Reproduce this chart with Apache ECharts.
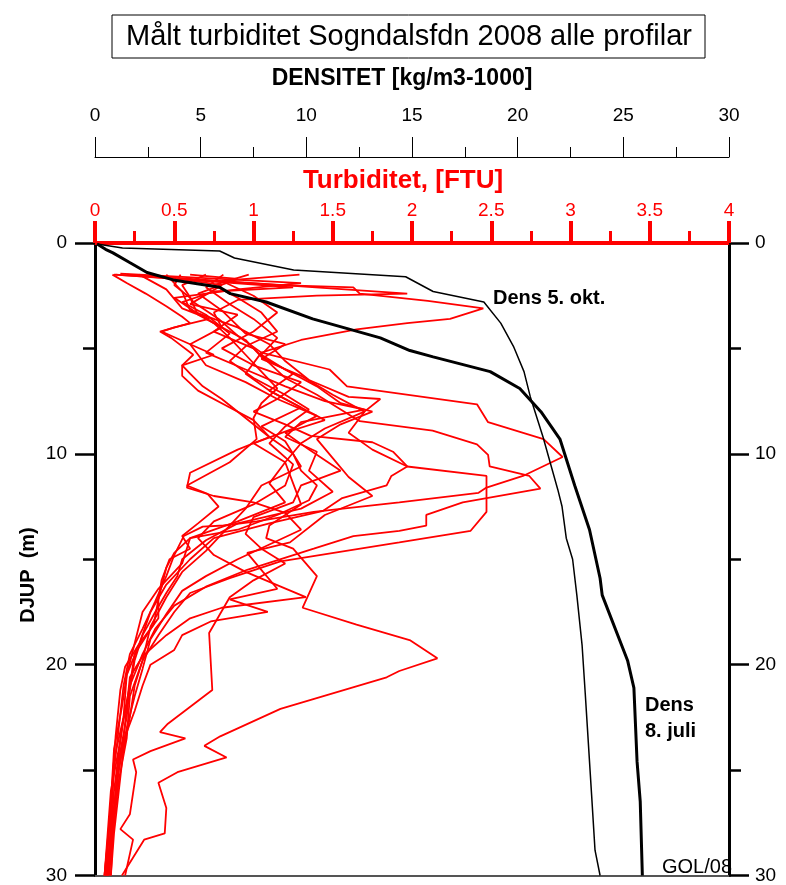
<!DOCTYPE html>
<html lang="no">
<head>
    <meta charset="UTF-8">
    <title>Målt turbiditet Sogndalsfdn 2008</title>
    <script src="https://cdn.jsdelivr.net/npm/echarts@6/dist/echarts.min.js"></script>
</head>
<style>
    html,body{margin:0;padding:0;background:#fff;}
    #main{width:786px;height:885px;}
</style>
<body>
    <div id="main"></div>
</body>
</html>

<script>
    // akser
    let turbTicks=[0,0.5,1,1.5,2,2.5,3,3.5,4];
    let densTicks=[0,5,10,15,20,25,30];
    let depthTicks=[0,10,20,30];

    // densitet [kg/m3-1000] mot djup (m)
    let densOktDepth=[0.05,0.24,0.38,0.71,1.28,1.6,2.3,2.8,3.8,4.9,6.1,7.3,9.2,11.7,12.5,14.0,15.0,16.7,19.1,21.4,23.0,26.2,28.8,30];
    let densOkt=[0.1,1.3,5.9,6.6,9.4,14.7,16.0,18.4,19.2,19.8,20.3,20.6,21.2,21.9,22.1,22.3,22.6,22.8,23.05,23.2,23.3,23.5,23.66,23.9];
    let densJuliDepth=[0.05,0.3,0.47,0.94,1.4,1.75,2.1,2.4,2.8,3.6,4.5,5.1,5.4,6.1,6.9,8.0,9.3,11.5,13.6,15.9,16.7,19.8,21.1,24.6,26.5,30];
    let densJuli=[0.1,0.5,0.85,1.66,2.46,3.7,5.9,6.4,8.1,10.3,13.5,14.9,16.0,18.7,20.1,21.1,22.0,22.7,23.4,23.9,24.0,25.2,25.5,25.65,25.8,25.9];

    // turbiditet [FTU], djup (m) - ein profil per liste
    let prof01=[[0.12,1.5],[1.17,2.0],[1.63,2.1],[1.67,2.4],[2.1,2.75],[2.45,3.1],[2.24,3.6],[1.97,3.8],[1.65,4.1],[1.3,4.6],[1.05,5.2],[0.95,6.2],[1.1,7.0],[1.3,7.8],[1.05,8.7],[1.2,9.4],[1.3,10.6],[1.05,11.5],[0.95,12.6],[0.85,13.4],[0.7,14.6],[0.55,15.6],[0.45,16.8],[0.35,18.2],[0.3,19.8],[0.22,21.5],[0.2,23.5],[0.15,25.5],[0.12,27.5],[0.08,30]];
    let prof02=[[0.2,1.5],[1.0,1.9],[1.97,2.4],[1.4,2.5],[0.9,2.7],[0.75,3.3],[0.8,4.0],[0.6,4.8],[0.7,5.8],[0.95,6.6],[1.15,7.4],[1.4,8.2],[1.25,8.8],[1.0,9.5],[1.2,10.4],[1.1,11.4],[1.2,12.3],[0.9,13.2],[0.6,14.0],[0.55,15.2],[0.4,16.4],[0.3,17.5],[0.25,19.0],[0.2,20.5],[0.18,22.5],[0.12,24.5],[0.1,27],[0.06,30]];
    let prof03=[[0.7,1.5],[0.55,2.0],[0.62,2.8],[0.78,3.6],[0.9,4.4],[1.05,5.2],[1.48,6.0],[1.59,6.8],[2.41,7.65],[2.48,8.5],[2.83,9.3],[2.95,10.15],[2.7,11.05],[2.47,11.6],[2.42,11.85],[1.92,12.3],[1.38,12.75],[1.02,13.2],[0.81,13.4],[0.68,13.45],[0.56,13.9],[0.5,14.8],[0.45,15.8],[0.38,17.0],[0.3,18.3],[0.22,19.5],[0.18,21.0],[0.15,23.0],[0.12,25.0],[0.1,27.5],[0.08,30]];
    let prof04=[[0.6,1.5],[0.9,1.7],[0.65,2.4],[0.8,3.2],[0.95,4.3],[1.2,4.8],[1.05,5.5],[1.3,6.3],[1.5,7.2],[1.7,8.0],[1.6,9.0],[1.75,9.8],[1.97,10.6],[2.47,11.05],[2.47,12.75],[2.37,13.65],[1.92,14.2],[1.17,15.1],[0.85,15.9],[0.6,16.6],[0.5,17.5],[0.4,18.6],[0.3,19.8],[0.25,21],[0.22,22.5],[0.18,24],[0.15,26],[0.12,28],[0.1,30]];
    let prof05=[[0.35,1.5],[0.8,2.0],[0.6,2.9],[0.9,3.4],[0.75,4.2],[1.0,5.0],[1.2,6.4],[1.4,7.2],[1.67,8.45],[2.13,8.9],[2.41,9.55],[2.48,10.05],[2.49,10.6],[2.74,11.05],[2.81,11.65],[2.32,12.3],[2.09,12.9],[2.09,13.4],[1.92,13.65],[1.63,13.9],[1.38,14.5],[0.96,15.5],[0.7,16.3],[0.5,17.2],[0.38,18.3],[0.3,19.5],[0.22,21],[0.2,22.5],[0.15,24.5],[0.12,27],[0.09,30]];
    let prof06=[[1.29,1.5],[0.8,1.8],[1.0,2.5],[1.15,3.3],[1.0,4.2],[0.8,5.0],[1.0,5.8],[1.3,6.6],[1.15,7.4],[1.0,8.0],[1.2,8.6],[1.36,9.15],[1.75,9.45],[1.88,9.9],[1.97,10.6],[1.87,11.05],[1.84,11.5],[1.56,12.1],[1.44,12.7],[1.1,13.3],[0.75,14.0],[0.6,15.0],[0.45,16.2],[0.35,17.5],[0.28,19.0],[0.2,20.5],[0.17,22.0],[0.12,24.0],[0.1,26.5],[0.07,30]];
    let prof07=[[0.45,1.5],[0.55,2.3],[0.6,3.2],[0.9,4.0],[1.1,4.8],[1.2,5.6],[1.35,6.5],[1.6,7.3],[1.8,7.4],[1.7,8.0],[1.45,8.8],[1.3,9.5],[1.2,10.4],[1.25,11.4],[1.3,12.4],[1.1,13.4],[1.08,14.0],[1.25,14.5],[1.4,15.8],[1.31,17.3],[1.65,18.1],[1.99,18.85],[2.16,19.7],[1.92,20.3],[1.84,20.6],[1.17,22.1],[0.79,23.4],[0.69,23.85],[0.83,24.4],[0.52,25.1],[0.4,25.6],[0.45,26.8],[0.44,28.0],[0.31,28.3],[0.17,30]];
    let prof08=[[0.28,1.5],[0.45,2.2],[0.55,3.1],[0.72,3.6],[0.5,4.0],[0.42,4.2],[0.6,4.8],[0.75,5.3],[0.55,5.8],[0.55,6.3],[0.65,7.0],[0.85,7.8],[1.0,8.4],[1.1,9.2],[0.9,9.8],[0.6,10.9],[0.58,11.6],[0.75,12.0],[1.0,12.3],[1.2,12.8],[1.3,13.6],[1.1,14.3],[0.9,15.0],[0.7,15.8],[0.55,16.5],[0.45,17.6],[0.35,18.8],[0.3,20.2],[0.25,21.5],[0.2,23],[0.15,25],[0.12,27],[0.1,30]];
    let prof09=[[0.11,1.5],[0.2,1.9],[0.32,2.4],[0.45,3.0],[0.55,3.5],[0.6,3.8],[0.41,4.2],[0.48,4.5],[0.62,5.3],[0.55,5.8],[0.6,6.2],[0.68,6.8],[0.8,7.4],[0.95,8.3],[1.1,9.2],[1.25,10.0],[1.3,10.8],[1.4,11.5],[1.35,12.2],[1.15,12.9],[0.9,13.6],[0.6,14.0],[0.5,14.7],[0.45,15.4],[0.4,16.9],[0.37,18.1],[0.25,19.5],[0.22,21],[0.18,22.5],[0.15,24],[0.1,26],[0.08,28],[0.06,30]];
    let prof10=[[0.54,1.5],[0.5,2.0],[0.6,2.6],[0.65,3.4],[0.8,4.0],[0.95,4.6],[1.05,5.4],[1.25,6.2],[1.1,7.0],[1.25,7.6],[1.45,8.4],[1.2,9.0],[1.35,9.8],[1.55,10.8],[1.3,11.5],[1.25,12.3],[1.0,13.0],[0.95,13.8],[1.05,14.5],[1.2,15.2],[1.0,16.0],[0.85,16.8],[0.72,18.5],[0.74,21.2],[0.46,22.8],[0.41,23.2],[0.57,23.5],[0.35,24.1],[0.24,24.5],[0.26,25.1],[0.22,27.1],[0.16,27.8],[0.24,28.3],[0.19,30]];
    let prof11=[[0.16,1.45],[1.3,1.9],[0.9,2.2],[0.5,2.6],[0.62,3.2],[0.75,3.8],[0.85,4.5],[0.95,5.3],[1.05,6.1],[1.15,6.9],[1.05,7.6],[1.0,8.3],[1.02,9.3],[0.85,10.4],[0.58,11.5],[0.71,11.9],[0.78,12.5],[0.65,13.3],[0.55,13.9],[0.6,14.5],[0.47,15.0],[0.42,16.0],[0.4,16.9],[0.4,17.8],[0.37,18.1],[0.28,19.0],[0.19,20.1],[0.16,21.2],[0.13,23.4],[0.11,25.6],[0.09,27.5],[0.06,30]];
    let prof12=[[0.81,1.5],[0.7,2.1],[0.85,2.9],[1.0,3.6],[1.15,4.5],[1.05,5.3],[1.2,6.0],[1.4,6.8],[1.55,7.6],[1.75,8.0],[1.55,8.6],[1.4,9.3],[1.5,10.2],[1.6,11.1],[1.75,12.0],[1.45,12.9],[1.23,14.2],[0.96,14.7],[1.06,15.6],[1.15,16.4],[0.85,16.9],[1.09,17.5],[0.73,17.95],[0.55,18.6],[0.5,19.3],[0.35,20.0],[0.3,21.0],[0.25,22.2],[0.18,23.6],[0.14,25.5],[0.1,28.0],[0.07,30]];
    let prof13=[[0.97,1.5],[0.75,2.0],[0.9,2.6],[1.05,3.3],[1.15,4.2],[0.95,4.9],[0.85,5.6],[1.0,6.4],[1.2,7.2],[1.35,7.9],[1.2,8.7],[1.1,9.5],[1.25,10.5],[1.2,11.5],[1.0,12.4],[0.75,13.2],[0.65,14.0],[0.75,14.8],[0.95,15.6],[1.33,16.8],[0.8,17.3],[0.6,17.8],[0.45,18.6],[0.3,19.6],[0.22,20.6],[0.2,22.0],[0.18,23.5],[0.14,25.0],[0.12,27.0],[0.08,30]];
    let prof14=[[0.13,1.5],[1.25,2.1],[0.75,2.3],[0.55,2.8],[0.7,3.4],[0.85,4.3],[0.7,5.2],[0.95,6.0],[1.2,6.8],[1.45,7.5],[1.7,7.9],[1.3,8.5],[1.2,9.2],[1.4,9.9],[1.35,10.8],[1.5,11.8],[1.3,12.6],[0.9,13.3],[0.7,14.1],[0.55,15.0],[0.52,15.8],[0.45,16.6],[0.38,17.5],[0.3,18.6],[0.25,19.8],[0.22,21.2],[0.18,22.6],[0.15,24.2],[0.12,26.0],[0.1,28.0],[0.08,30]];
    let profiles=[prof01,prof02,prof03,prof04,prof05,prof06,prof07,prof08,prof09,prof10,prof11,prof12,prof13,prof14];

    let chart=echarts.init(document.getElementById('main'),null,{renderer:'canvas'});
    let font='"Liberation Sans", Arial, sans-serif';
    let red='#ff0000';

    let series=profiles.map(function(p,i){
        return {
            name:'Profil '+(i+1),
            type:'line',
            xAxisIndex:0,
            yAxisIndex:0,
            data:p,
            showSymbol:false,
            lineStyle:{color:red,width:1.8},
            z:3
        };
    });
    series.push({
        name:'Dens 5. okt.',
        type:'line',
        xAxisIndex:1,
        yAxisIndex:0,
        data:densOkt.map(function(d,i){return [d,densOktDepth[i]];}),
        showSymbol:false,
        lineStyle:{color:'#000',width:1.5},
        z:4
    });
    series.push({
        name:'Dens 8. juli',
        type:'line',
        xAxisIndex:1,
        yAxisIndex:0,
        data:densJuli.map(function(d,i){return [d,densJuliDepth[i]];}),
        showSymbol:false,
        lineStyle:{color:'#000',width:3},
        z:4
    });

    function depthAxis(pos,margin){
        return {
            type:'value',
            position:pos,
            inverse:true,
            min:0,
            max:30,
            interval:10,
            axisLine:{show:true,onZero:false,lineStyle:{color:'#000',width:3}},
            axisTick:{show:true,length:20,lineStyle:{color:'#000',width:2.5}},
            minorTick:{show:true,splitNumber:2,length:12,lineStyle:{color:'#000',width:2.5}},
            axisLabel:{color:'#000',fontSize:19,fontFamily:font,margin:margin,showMinLabel:true,showMaxLabel:true},
            splitLine:{show:false},
            minorSplitLine:{show:false}
        };
    }

    chart.setOption({
        animation:false,
        backgroundColor:'#fff',
        textStyle:{fontFamily:font},
        grid:{left:95,right:57,top:243,bottom:7,containLabel:false},
        xAxis:[
            {
                type:'value',
                position:'top',
                min:0,
                max:4,
                interval:0.5,
                axisLine:{show:true,onZero:false,lineStyle:{color:red,width:4}},
                axisTick:{show:true,length:22,lineStyle:{color:red,width:4}},
                minorTick:{show:true,splitNumber:2,length:12,lineStyle:{color:red,width:3}},
                axisLabel:{color:red,fontSize:19,fontFamily:font,margin:23,showMinLabel:true,showMaxLabel:true},
                splitLine:{show:false},
                minorSplitLine:{show:false}
            },
            {
                type:'value',
                position:'top',
                offset:86,
                min:0,
                max:30,
                interval:5,
                axisLine:{show:true,onZero:false,lineStyle:{color:'#000',width:1}},
                axisTick:{show:true,length:20,lineStyle:{color:'#000',width:1}},
                minorTick:{show:true,splitNumber:2,length:10,lineStyle:{color:'#000',width:1}},
                axisLabel:{color:'#000',fontSize:19,fontFamily:font,margin:32,showMinLabel:true,showMaxLabel:true},
                splitLine:{show:false},
                minorSplitLine:{show:false}
            },
            {
                type:'value',
                position:'bottom',
                min:0,
                max:4,
                axisLine:{show:true,onZero:false,lineStyle:{color:'#555',width:2}},
                axisTick:{show:false},
                axisLabel:{show:false},
                splitLine:{show:false}
            }
        ],
        yAxis:[depthAxis('left',28),depthAxis('right',26)],
        series:series,
        graphic:[
            {type:'rect',shape:{x:112,y:15,width:593,height:43},style:{fill:'#fff',stroke:'#000',lineWidth:1}},
            {type:'text',x:409,y:37,style:{text:'Målt turbiditet Sogndalsfdn 2008 alle profilar',align:'center',verticalAlign:'middle',font:'29px '+font,fill:'#000'}},
            {type:'text',x:402,y:79,style:{text:'DENSITET [kg/m3-1000]',align:'center',verticalAlign:'middle',font:'bold 23px '+font,fill:'#000'}},
            {type:'text',x:403,y:181,style:{text:'Turbiditet, [FTU]',align:'center',verticalAlign:'middle',font:'bold 26px '+font,fill:red}},
            {type:'text',x:28,y:575,rotation:Math.PI/2,style:{text:'DJUP  (m)',align:'center',verticalAlign:'middle',font:'bold 20px '+font,fill:'#000'}},
            {type:'text',x:493,y:298,style:{text:'Dens 5. okt.',align:'left',verticalAlign:'middle',font:'bold 20px '+font,fill:'#000'}},
            {type:'text',x:645,y:705,style:{text:'Dens',align:'left',verticalAlign:'middle',font:'bold 20px '+font,fill:'#000'}},
            {type:'text',x:645,y:731,style:{text:'8. juli',align:'left',verticalAlign:'middle',font:'bold 20px '+font,fill:'#000'}},
            {type:'text',x:662,y:867,style:{text:'GOL/08',align:'left',verticalAlign:'middle',font:'20px '+font,fill:'#000'}}
        ]
    });
</script>
